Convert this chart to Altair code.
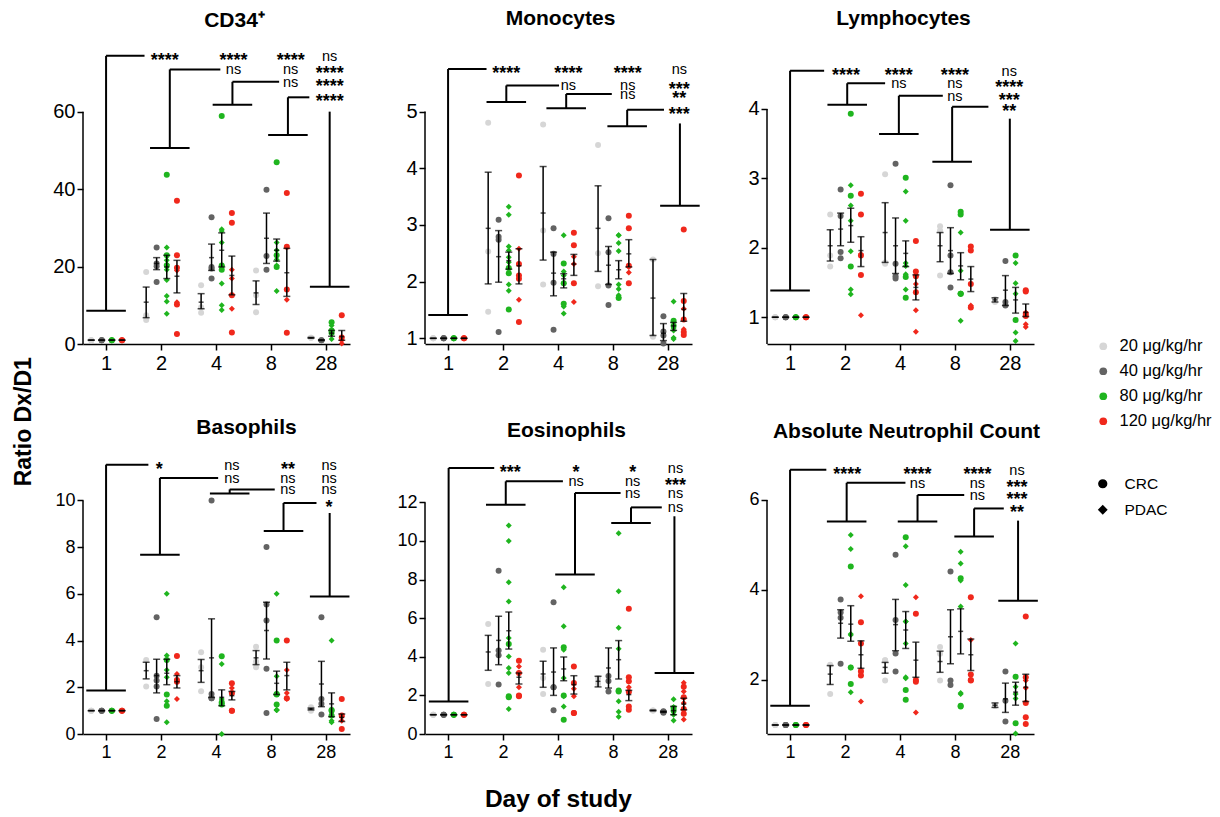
import altair as alt
import pandas as pd

DAYS = ["1", "2", "4", "8", "28"]
DOSES = ["\u200720 μg/kg/hr", "\u200740 μg/kg/hr", "\u200780 μg/kg/hr", "120 μg/kg/hr"]
COLORS = ["#d6d6d6", "#636363", "#1fb51f", "#f0281c"]
TYPES = ["CRC", "PDAC"]
E = [[], [], [], [], []]

# ---------------- CD34+ ----------------
CD34_20_CRC = [[1, 1, 1], [18.6, 7.4, 6.2], [15.2, 9.5, 8.1], [19.0, 12.6, 8.2], [1.6, 1.6]]
CD34_40_CRC = [[1, 1, 1], [24.9, 20.8, 20.1, 16.0], [32.7, 19.9, 19.5, 16.9], [39.8, 22.7, 19.2], [1.0, 1.0]]
CD34_80_CRC = [[1, 1], [43.7, 22.9, 20.3], [58.9, 20.3, 19.2], [46.9, 22.9, 19.9], [5.6, 3.5, 2.9]]
CD34_80_PDAC = [[1, 1, 1], [24.9, 21.6, 20.5, 19.2, 16.5, 12.4, 11.0, 7.8], [29.6, 29.2, 26.2, 20.3, 15.6, 10.0, 8.8],
                [26.2, 24.2, 21.8, 20.3, 13.7], [4.8, 2.6, 1.3]]
CD34_120_CRC = [[1, 1], [37.0, 22.9, 19.7, 10.2, 2.6], [33.8, 31.3, 12.6, 3.0], [39.0, 25.1, 14.1, 2.9], [7.4, 1.7]]
CD34_120_PDAC = [[1, 1], [19.0, 10.8], [19.2, 16.9, 9.1], [11.4], [1.0, 0.1]]
CD34_MEAN = [[1, 10.8, 10.8, 13.2, 1.6], [1, 20.8, 22.3, 27.3, 1.0], [1, 19.9, 24.2, 24.2, 2.8], [1, 17.5, 17.7, 18.4, 1.9]]
CD34_LO = [[1, 6.8, 9.1, 10.2, 1.5], [1, 19.2, 19.0, 20.8, 0.9], [1, 16.9, 19.9, 21.4, 2.0], [1, 13.2, 12.7, 12.3, 1.0]]
CD34_HI = [[1, 14.7, 13.0, 16.3, 1.7], [1, 22.3, 25.8, 33.8, 1.1], [1, 22.9, 28.7, 27.1, 3.5], [1, 21.6, 22.7, 24.7, 3.5]]
CD34_CAP_X = [0.0, 1.16, 2.30, 3.31, 4.07]
CD34_CAP_Y = [8.6, 50.6, 61.8, 54.0, 14.8]
CD34_TOP_Y = [74.4, 70.9, 67.7, 63.7, 60.0]
CD34_END_X = [0.70, 2.08, 3.15, 3.70]
CD34_TXT_X = [1.07, 2.32, 3.36, 4.07]
CD34_STARS = [["****", "****", "****", "ns"], ["ns", "ns", "****"], ["ns", "****"], ["****"]]

# ---------------- Monocytes ----------------
MONO_20_CRC = [[1, 1, 1], [4.80, 2.53, 1.47], [4.77, 2.90, 1.95], [4.41, 2.50, 1.92], [2.39, 1.03]]
MONO_40_CRC = [[1, 1, 1], [3.09, 2.79, 2.74, 1.11], [2.94, 2.49, 1.98, 1.15], [3.12, 2.52, 1.93, 1.59], [1.39, 1.12, 1.05, 0.91]]
MONO_80_CRC = [[1, 1], [2.24, 2.15, 1.51], [2.32, 1.97, 1.61], [1.71], [1.31, 1.22]]
MONO_80_PDAC = [[1, 1, 1], [3.32, 3.18, 2.62, 2.55, 2.43, 2.34, 1.95, 1.84], [2.82, 2.18, 2.11, 1.97, 1.56, 1.44],
                [2.82, 2.82, 2.68, 2.54, 1.95, 1.87, 1.76, 1.72], [1.65, 1.18, 1.14, 1.01, 0.99]]
MONO_120_CRC = [[1, 1], [3.87, 2.31, 2.11, 2.05, 1.29], [2.86, 2.64, 1.97], [3.16, 2.94, 2.28, 1.97], [2.92, 1.66, 1.33, 1.11, 1.06]]
MONO_120_PDAC = [[1, 1], [2.58, 1.68], [2.44, 2.31, 1.64], [2.26, 2.16], [1.52, 1.16]]
MONO_MEAN = [[1, 2.94, 3.21, 2.94, 1.71], [1, 2.44, 2.15, 2.29, 1.09], [1, 2.37, 2.05, 2.21, 1.22], [1, 2.28, 2.31, 2.49, 1.51]]
MONO_LO = [[1, 1.96, 2.38, 2.18, 1.05], [1, 1.99, 1.75, 1.95, 0.96], [1, 2.22, 1.89, 2.05, 1.14], [1, 1.96, 2.11, 2.26, 1.30]]
MONO_HI = [[1, 3.93, 4.03, 3.69, 2.39], [1, 2.90, 2.52, 2.62, 1.26], [1, 2.52, 2.14, 2.37, 1.28], [1, 2.58, 2.48, 2.74, 1.79]]
MONO_CAP_X = [0.0, 1.06, 2.15, 3.26, 4.22]
MONO_CAP_Y = [1.41, 5.17, 5.06, 4.74, 3.34]
MONO_TOP_Y = [5.75, 5.46, 5.31, 5.03, 4.79]
MONO_END_X = [0.70, 2.02, 2.98, 3.93]
MONO_TXT_X = [1.06, 2.19, 3.27, 4.21]
MONO_STARS = [["****", "****", "****", "ns"], ["ns", "ns", "***"], ["ns", "**"], ["***"]]

# ---------------- Lymphocytes ----------------
LYM_20_CRC = [[1, 1, 1], [2.48, 1.89, 1.73], [3.06, 1.79, 1.77], [2.31, 2.25, 1.60], [1.26, 1.22]]
LYM_40_CRC = [[1, 1, 1], [2.84, 2.46, 1.94, 1.85], [3.21, 1.77, 1.59, 1.56], [2.90, 1.89, 1.65, 1.43], [1.81, 1.22, 1.17]]
LYM_80_CRC = [[1, 1], [3.93, 2.75, 1.73], [3.01, 1.58, 1.28], [2.52, 2.48, 1.34, 1.34], [1.89, 0.96]]
LYM_80_PDAC = [[1, 1, 1], [2.90, 2.61, 2.39, 1.95, 1.40, 1.33], [2.81, 2.39, 1.78, 1.74, 1.62, 1.40],
               [2.22, 1.67, 1.34, 1.34, 0.95], [1.78, 1.49, 1.34, 0.78, 0.66]]
LYM_120_CRC = [[1, 1], [2.78, 2.48, 1.89, 1.61], [2.10, 1.66, 1.59, 1.36], [2.02, 1.96, 1.48, 1.14], [1.39, 1.37, 1.05, 1.02]]
LYM_120_PDAC = [[1, 1], [1.91, 1.03], [1.48, 1.10, 0.79], [1.17], [1.07, 0.90, 0.86]]
LYM_MEAN = [[1, 2.03, 2.22, 2.03, 1.25], [1, 2.27, 2.03, 1.96, 1.39], [1, 2.32, 1.92, 1.74, 1.25], [1, 1.96, 1.43, 1.55, 1.07]]
LYM_LO = [[1, 1.81, 1.79, 1.80, 1.22], [1, 2.03, 1.63, 1.63, 1.17], [1, 2.08, 1.73, 1.54, 1.06], [1, 1.73, 1.25, 1.37, 1.01]]
LYM_HI = [[1, 2.26, 2.65, 2.22, 1.28], [1, 2.50, 2.43, 2.29, 1.60], [1, 2.57, 2.10, 1.93, 1.43], [1, 2.16, 1.61, 1.73, 1.19]]
LYM_CAP_X = [0.0, 1.04, 1.98, 2.95, 4.0]
LYM_CAP_Y = [1.385, 4.06, 3.64, 3.24, 2.26]
LYM_TOP_Y = [4.55, 4.37, 4.19, 4.03, 3.86]
LYM_END_X = [0.62, 1.73, 2.78, 3.61]
LYM_TXT_X = [1.02, 1.98, 3.0, 3.99]
LYM_STARS = [["****", "****", "****", "ns"], ["ns", "ns", "****"], ["ns", "***"], ["**"]]

# ---------------- Basophils ----------------
BASO_20_CRC = [[1, 1, 1], [3.17, 2.03], [3.5, 2.86, 1.83], [3.74, 3.10, 2.86], [1.14, 1.0]]
BASO_40_CRC = [[1, 1, 1], [5.0, 2.49, 2.29, 2.03, 0.64], [10.0, 1.71, 1.53, 1.53], [8.0, 5.54, 4.86, 2.79, 0.9], [5.0, 1.5, 1.29, 0.83]]
BASO_80_CRC = [[1, 1], [3.17, 1.69, 1.21], [3.33, 1.36, 1.26], [4.0, 1.69, 1.71, 1.26], [1.0, 0.79, 1.03]]
BASO_80_PDAC = [[1, 1, 1], [6.0, 3.36, 2.74, 2.43, 1.40, 0.5], [3.0, 1.5, 1.29, 0.0], [6.0, 2.47, 1.03, 1.03, 1.03], [4.0, 0.57, 0.5]]
BASO_120_CRC = [[1, 1], [3.34, 2.31, 2.24], [2.17, 1.76, 1.0, 1.0], [4.0, 1.53], [1.5, 0.79, 0.21]]
BASO_120_PDAC = [[1, 1], [2.57, 1.5], [1.97, 1.71], [2.74, 1.76, 1.5], [0.74, 0.57]]
BASO_MEAN = [[1, 2.71, 2.71, 3.26, 1.07], [1, 2.5, 3.26, 4.43, 2.14], [1, 2.6, 1.57, 2.17, 1.29], [1, 2.24, 1.64, 2.5, 0.71]]
BASO_LO = [[1, 2.36, 2.21, 2.97, 1.03], [1, 1.76, 1.57, 3.21, 1.17], [1, 2.11, 1.21, 1.69, 0.74], [1, 1.97, 1.46, 1.89, 0.54]]
BASO_HI = [[1, 3.07, 3.19, 3.57, 1.11], [1, 3.2, 4.93, 5.64, 3.11], [1, 3.2, 1.89, 2.69, 1.76], [1, 2.5, 1.82, 3.07, 0.86]]
BASO_CAP_X = [0.0, 0.98, 2.25, 3.23, 4.07]
BASO_CAP_Y = [1.86, 7.67, 10.29, 8.69, 5.89]
BASO_TOP_Y = [11.53, 10.96, 10.47, 9.89, 9.46]
BASO_END_X = [0.77, 2.04, 3.07, 3.83]
BASO_TXT_X = [0.97, 2.29, 3.31, 4.06]
BASO_STARS = [["*", "ns", "**", "ns"], ["ns", "ns", "ns"], ["ns", "ns"], ["*"]]

# ---------------- Eosinophils ----------------
EOS_20_CRC = [[1, 1, 1], [5.70, 2.59], [4.37, 2.9, 2.07], [2.9, 2.6], [1.22, 1.22]]
EOS_40_CRC = [[1, 1, 1], [8.46, 4.32, 4.08, 2.56], [6.82, 2.42, 2.42, 1.23], [3.0, 2.75, 2.2], [1.1, 1.18, 1.15]]
EOS_80_CRC = [[1, 1], [4.66, 1.95, 1.90], [4.49, 2.0, 0.74], [2.25, 2.2], [1.35, 1.2]]
EOS_80_PDAC = [[1, 1, 1], [10.8, 10.0, 7.86, 6.87, 4.97, 4.02, 3.42, 3.16, 1.30], [7.6, 5.58, 4.37, 2.9, 1.95, 1.43],
               [10.4, 7.4, 5.5, 4.42, 1.7, 1.15, 0.9], [1.8, 1.4, 1.0, 0.7]]
EOS_120_CRC = [[1, 1], [3.80, 3.16, 2.0, 1.95], [3.5, 2.64, 1.09, 1.09], [6.49, 2.94, 2.18, 2.73, 1.43, 1.26], [2.45, 1.9, 1.3, 1.05]]
EOS_120_PDAC = [[1, 1], [3.5, 3.16, 2.42], [2.35, 1.95], [2.42, 2.18], [2.65, 2.2, 1.6, 0.75]]
EOS_MEAN = [[1, 4.25, 3.11, 2.73, 1.22], [1, 4.85, 3.21, 3.42, 1.15], [1, 5.35, 3.37, 3.85, 1.21], [1, 2.94, 2.56, 2.04, 1.55]]
EOS_LO = [[1, 3.30, 2.42, 2.44, 1.2], [1, 3.59, 2.0, 2.38, 1.12], [1, 4.40, 2.76, 2.85, 1.0], [1, 2.59, 2.07, 1.73, 1.25]]
EOS_HI = [[1, 5.11, 3.77, 2.99, 1.24], [1, 6.10, 4.46, 4.46, 1.18], [1, 6.32, 3.99, 4.84, 1.43], [1, 3.16, 3.02, 2.26, 1.85]]
EOS_CAP_X = [0.01, 1.05, 2.31, 3.33, 4.12]
EOS_CAP_Y = [1.69, 11.88, 8.26, 10.93, 3.16]
EOS_TOP_Y = [13.78, 13.09, 12.49, 11.74, 11.28]
EOS_END_X = [0.84, 2.09, 3.14, 3.89]
EOS_TXT_X = [1.13, 2.33, 3.36, 4.14]
EOS_STARS = [["***", "*", "*", "ns"], ["ns", "ns", "***"], ["ns", "ns"], ["ns"]]

# ---------------- Absolute Neutrophil Count ----------------
ANC_20_CRC = [[1, 1, 1], [2.34, 1.69], [2.44, 2.44, 1.99], [2.73, 2.58, 1.99], [1.43, 1.43]]
ANC_40_CRC = [[1, 1, 1], [3.79, 3.50, 3.38, 2.36], [4.78, 3.33, 2.59, 2.19], [4.41, 1.99, 1.89], [2.19, 1.54, 1.08]]
ANC_80_CRC = [[1, 1], [4.52, 2.28, 1.91], [5.17, 1.78, 1.56], [4.26, 1.41, 1.43], [2.07, 1.04]]
ANC_80_PDAC = [[1, 1, 1], [5.22, 4.91, 3.0, 3.02, 2.28, 1.73], [4.97, 4.11, 3.30, 3.30, 2.81, 2.04, 2.06],
               [4.85, 4.59, 4.21, 3.63, 1.69, 1.71], [2.81, 1.85, 1.69, 1.59, 0.81]]
ANC_120_CRC = [[1, 1], [3.28, 2.81, 2.19, 2.10], [3.47, 2.0, 1.96], [3.84, 2.12, 2.0, 1.99], [3.41, 2.06, 1.49, 1.17, 1.02]]
ANC_120_PDAC = [[1, 1], [3.86, 2.22, 1.52], [3.84, 1.28], [2.89], [1.99, 1.82]]
ANC_MEAN = [[1, 2.13, 2.28, 2.41, 1.44], [1, 3.26, 3.23, 2.96, 1.58], [1, 3.24, 3.11, 3.08, 1.73], [1, 2.56, 2.44, 2.56, 1.84]]
ANC_LO = [[1, 1.90, 2.15, 2.17, 1.39], [1, 2.93, 2.65, 2.36, 1.28], [1, 2.86, 2.70, 2.58, 1.44], [1, 2.26, 2.06, 2.21, 1.52]]
ANC_HI = [[1, 2.32, 2.39, 2.64, 1.49], [1, 3.56, 3.79, 3.56, 1.93], [1, 3.65, 3.52, 3.58, 1.95], [1, 2.87, 2.84, 2.91, 2.13]]
ANC_CAP_X = [0.0, 1.03, 2.32, 3.35, 4.15]
ANC_CAP_Y = [1.43, 5.52, 5.52, 5.19, 3.76]
ANC_TOP_Y = [6.67, 6.38, 6.11, 5.81, 5.54]
ANC_END_X = [0.66, 2.10, 3.17, 3.89]
ANC_TXT_X = [1.04, 2.32, 3.41, 4.13]
ANC_STARS = [["****", "****", "****", "ns"], ["ns", "ns", "***"], ["ns", "***"], ["**"]]

# ---------------- layout / style ----------------
FONT = "Liberation Sans"
OFFS = [-0.27, -0.08, 0.105, 0.29]
XDOM = [-0.42, 4.44]
CAP_HALF = 0.36
PW = 267


def panel(title, dx, toff, crc, pdac, mean, lo, hi, capx, capy, topy, endx, txtx, stars,
          ydom, yticks, height, lab_size):
    pts = []
    for k in range(4):
        for i in range(5):
            for v in crc[k][i]:
                pts.append({"x": i + OFFS[k], "v": v, "dose": DOSES[k], "type": "CRC"})
            for v in pdac[k][i]:
                pts.append({"x": i + OFFS[k], "v": v, "dose": DOSES[k], "type": "PDAC"})
    eb = [{"x": i + OFFS[k], "m": mean[k][i], "lo": lo[k][i], "hi": hi[k][i]}
          for k in range(4) for i in range(5)]
    segs = []
    for j in range(5):
        segs.append({"x": capx[j] - CAP_HALF, "x2": capx[j] + CAP_HALF, "y": capy[j], "y2": capy[j], "w": 2})
        segs.append({"x": capx[j], "x2": capx[j], "y": capy[j], "y2": topy[j], "w": 2})
        if j < 4:
            segs.append({"x": capx[j], "x2": endx[j], "y": topy[j], "y2": topy[j], "w": 2})
    segs.append({"x": XDOM[0], "x2": XDOM[0], "y": ydom[0], "y2": yticks[-1], "w": 1.5})
    stars_rows, ns_rows = [], []
    for j in range(4):
        for c, s in enumerate(stars[j]):
            row = {"x": txtx[j + c], "y": topy[j], "t": s}
            (ns_rows if s == "ns" else stars_rows).append(row)

    xs = alt.Scale(domain=XDOM, nice=False, zero=False)
    ys = alt.Scale(domain=ydom, nice=False, zero=False)
    xax = alt.Axis(values=[0, 1, 2, 3, 4], labelExpr="['1','2','4','8','28'][datum.value]",
                   title=None, grid=False, tickSize=6, tickWidth=1.5, domainWidth=1.5,
                   labelFontSize=lab_size, labelPadding=3, labelFont=FONT,
                   domainColor="black", tickColor="black", labelColor="black")
    yax = alt.Axis(values=yticks, title=None, grid=False, domain=False, tickSize=6,
                   tickWidth=1.5, labelFontSize=lab_size, labelPadding=2, labelFont=FONT,
                   tickColor="black", labelColor="black")

    def X(f):
        return alt.X(f, type="quantitative", scale=xs, axis=xax)

    def Y(f):
        return alt.Y(f, type="quantitative", scale=ys, axis=yax)

    seg_layer = alt.Chart(pd.DataFrame(segs)).mark_rule(color="black").encode(
        x=X("x"), x2="x2", y=Y("y"), y2="y2",
        strokeWidth=alt.StrokeWidth("w:Q", scale=None))
    pt_layer = alt.Chart(pd.DataFrame(pts)).mark_point(filled=True, opacity=1, size=36).encode(
        x=X("x"), y=Y("v"),
        color=alt.Color("dose:N", scale=alt.Scale(domain=DOSES, range=COLORS),
                        legend=alt.Legend(title=None, orient="none", legendX=1012, legendY=286,
                                          symbolType="circle", symbolSize=60, labelFontSize=16.5,
                                          labelFont=FONT, rowPadding=8, labelOffset=8,
                                          labelColor="black")),
        shape=alt.Shape("type:N", scale=alt.Scale(domain=TYPES, range=["circle", "diamond"]),
                        legend=alt.Legend(title=None, orient="none", legendX=1012, legendY=424,
                                          symbolSize=60, symbolFillColor="black",
                                          symbolStrokeColor="black", labelFontSize=15.5,
                                          labelFont=FONT, rowPadding=9, labelOffset=14,
                                          labelColor="black")))
    eb_data = pd.DataFrame(eb)
    eb_rule = alt.Chart(eb_data).mark_rule(color="black", strokeWidth=1.5).encode(
        x=X("x"), y=Y("lo"), y2="hi")
    eb_lo = alt.Chart(eb_data).mark_tick(color="black", orient="horizontal", size=7,
                                         thickness=1.5).encode(x=X("x"), y=Y("lo"))
    eb_hi = alt.Chart(eb_data).mark_tick(color="black", orient="horizontal", size=7,
                                         thickness=1.5).encode(x=X("x"), y=Y("hi"))
    eb_m = alt.Chart(eb_data).mark_tick(color="black", orient="horizontal", size=5,
                                        thickness=1.5).encode(x=X("x"), y=Y("m"))
    layers = [seg_layer, pt_layer, eb_rule, eb_lo, eb_hi, eb_m]
    if stars_rows:
        layers.append(alt.Chart(pd.DataFrame(stars_rows)).mark_text(
            font=FONT, fontSize=18, fontWeight="bold", color="black", align="center",
            baseline="middle", dy=5).encode(x=X("x"), y=Y("y"), text="t:N"))
    if ns_rows:
        layers.append(alt.Chart(pd.DataFrame(ns_rows)).mark_text(
            font=FONT, fontSize=14.5, color="black", align="center",
            baseline="middle", dy=1).encode(x=X("x"), y=Y("y"), text="t:N"))
    return alt.layer(*layers).properties(
        width=PW, height=height,
        title=alt.TitleParams(title, fontSize=21, font=FONT, fontWeight="bold", anchor="middle",
                              dx=dx, offset=toff, frame="group", color="black"))


p1 = panel("CD34⁺", 18, 18, [CD34_20_CRC, CD34_40_CRC, CD34_80_CRC, CD34_120_CRC],
           [E, E, CD34_80_PDAC, CD34_120_PDAC], CD34_MEAN, CD34_LO, CD34_HI,
           CD34_CAP_X, CD34_CAP_Y, CD34_TOP_Y, CD34_END_X, CD34_TXT_X, CD34_STARS,
           [0, 75.4], [0, 20, 40, 60], 292, 20)
p2 = panel("Monocytes", 2, 23, [MONO_20_CRC, MONO_40_CRC, MONO_80_CRC, MONO_120_CRC],
           [E, E, MONO_80_PDAC, MONO_120_PDAC], MONO_MEAN, MONO_LO, MONO_HI,
           MONO_CAP_X, MONO_CAP_Y, MONO_TOP_Y, MONO_END_X, MONO_TXT_X, MONO_STARS,
           [0.9, 6.05], [1, 2, 3, 4, 5], 292, 20)
p3 = panel("Lymphocytes", 3, 23, [LYM_20_CRC, LYM_40_CRC, LYM_80_CRC, LYM_120_CRC],
           [E, E, LYM_80_PDAC, LYM_120_PDAC], LYM_MEAN, LYM_LO, LYM_HI,
           LYM_CAP_X, LYM_CAP_Y, LYM_TOP_Y, LYM_END_X, LYM_TXT_X, LYM_STARS,
           [0.615, 4.82], [1, 2, 3, 4], 292, 20)
p4 = panel("Basophils", 30, 20, [BASO_20_CRC, BASO_40_CRC, BASO_80_CRC, BASO_120_CRC],
           [E, E, BASO_80_PDAC, BASO_120_PDAC], BASO_MEAN, BASO_LO, BASO_HI,
           BASO_CAP_X, BASO_CAP_Y, BASO_TOP_Y, BASO_END_X, BASO_TXT_X, BASO_STARS,
           [0, 11.6], [0, 2, 4, 6, 8, 10], 271, 18)
p5 = panel("Eosinophils", 8, 20, [EOS_20_CRC, EOS_40_CRC, EOS_80_CRC, EOS_120_CRC],
           [E, E, EOS_80_PDAC, EOS_120_PDAC], EOS_MEAN, EOS_LO, EOS_HI,
           EOS_CAP_X, EOS_CAP_Y, EOS_TOP_Y, EOS_END_X, EOS_TXT_X, EOS_STARS,
           [0, 14.04], [0, 2, 4, 6, 8, 10, 12], 271, 18)
p6 = panel("Absolute Neutrophil Count", 6, 21, [ANC_20_CRC, ANC_40_CRC, ANC_80_CRC, ANC_120_CRC],
           [E, E, ANC_80_PDAC, ANC_120_PDAC], ANC_MEAN, ANC_LO, ANC_HI,
           ANC_CAP_X, ANC_CAP_Y, ANC_TOP_Y, ANC_END_X, ANC_TXT_X, ANC_STARS,
           [0.8, 6.82], [2, 4, 6], 271, 18)

grid = alt.concat(p1, p2, p3, p4, p5, p6, columns=3, bounds="flush",
                  spacing=alt.RowColnumber(row=119, column=75)).properties(
    title=alt.TitleParams("Day of study", orient="bottom", fontSize=24.5, font=FONT,
                          fontWeight="bold", anchor="middle", offset=27, dx=12, color="black"))
chart = alt.hconcat(grid).properties(
    title=alt.TitleParams("Ratio Dx/D1", orient="left", fontSize=23, font=FONT,
                          fontWeight="bold", anchor="middle", offset=17, dx=-12, color="black"),
    background="white", padding={"left": 12, "top": 8, "right": 5, "bottom": 5}
).resolve_scale(color="shared", shape="shared").configure_view(stroke=None)

chart.save("out.html", embed_options={"renderer": "svg", "actions": False})
